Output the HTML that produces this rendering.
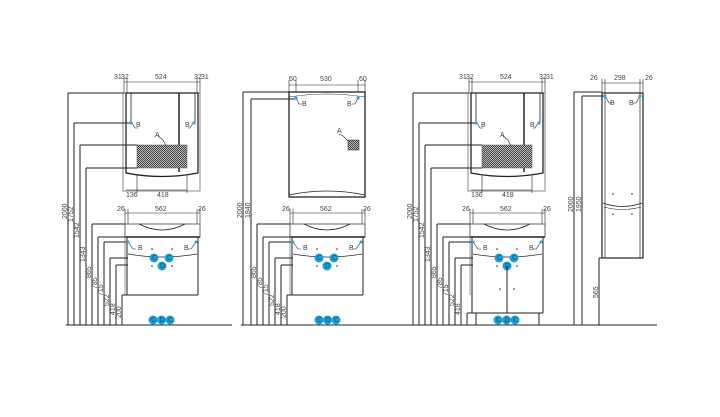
<!DOCTYPE html>
<html><head><meta charset="utf-8"><style>
html,body{margin:0;padding:0;background:#fff;width:720px;height:417px;overflow:hidden}
svg{display:block}
text{font-family:"Liberation Sans",sans-serif;font-size:7px;fill:#444}
</style></head><body>
<svg width="720" height="417" viewBox="0 0 720 417" xmlns="http://www.w3.org/2000/svg">
<defs>
<pattern id="h" width="2" height="2" patternUnits="userSpaceOnUse"><rect width="2" height="2" fill="#bbb"/><rect width="1" height="1" fill="#444"/><rect x="1" y="1" width="1" height="1" fill="#444"/></pattern>
<g id="upper" fill="none" stroke="#222" stroke-width="1">
<line x1="124" y1="82" x2="200" y2="82" stroke-width="0.6"/>
<line x1="124" y1="78" x2="124" y2="93" stroke-width="0.6"/><line x1="127" y1="78" x2="127" y2="93" stroke-width="0.6"/>
<line x1="197" y1="78" x2="197" y2="93" stroke-width="0.6"/><line x1="200" y1="78" x2="200" y2="93" stroke-width="0.6"/>
<rect x="123" y="93" width="77" height="98" stroke="#888"/>
<path d="M126 93 H198 V173 Q162 180 126 173 Z" stroke-width="1.3"/>
<line x1="179" y1="93" x2="179" y2="172" stroke-width="1.5"/>
<rect x="137" y="145" width="50" height="23" fill="url(#h)" stroke="#555" stroke-width="0.5"/>
<line x1="126" y1="190" x2="187" y2="190" stroke-width="0.6"/>
<line x1="137" y1="175" x2="137" y2="193" stroke-width="0.6"/><line x1="187" y1="175" x2="187" y2="193" stroke-width="0.6"/>
<line x1="131" y1="93" x2="131" y2="123" stroke-width="0.8"/><line x1="195" y1="93" x2="195" y2="123" stroke-width="0.8"/>
<polyline points="132,123 135,128 138,128" stroke-width="0.6"/><polyline points="193,123 190,128 188,128" stroke-width="0.6"/>
<polyline points="158,136 163,140 166,146" stroke-width="0.6"/>
<line x1="68" y1="93" x2="124" y2="93"/><line x1="74" y1="123" x2="131" y2="123"/>
<line x1="80" y1="145" x2="137" y2="145"/><line x1="86" y1="168" x2="137" y2="168"/>
<line x1="68" y1="93" x2="68" y2="325"/><line x1="74" y1="123" x2="74" y2="325"/>
<line x1="80" y1="145" x2="80" y2="325"/><line x1="86" y1="168" x2="86" y2="325"/>
<circle cx="131" cy="123" r="1.6" fill="#2aa7d8" stroke="none"/><circle cx="194" cy="123" r="1.6" fill="#2aa7d8" stroke="none"/>
</g>
<g id="upperT">
<text x="114" y="79">31</text><text x="121" y="79">32</text><text x="155" y="79">524</text><text x="194" y="79">32</text><text x="201" y="79">31</text>
<text x="136" y="127">B</text><text x="185" y="127">B</text><text x="155" y="137">A</text>
<text x="126" y="197" font-size="6">136</text><text x="157" y="197" font-size="6">418</text>
<text transform="translate(67,219) rotate(-90)" font-size="6">2000</text>
<text transform="translate(73,222) rotate(-90)" font-size="6">1752</text>
<text transform="translate(79,238) rotate(-90)" font-size="6">1542</text>
<text transform="translate(85,262) rotate(-90)" font-size="6">1343</text>
</g>
<g id="lower" fill="none" stroke="#222" stroke-width="1">
<line x1="125" y1="213" x2="200" y2="213" stroke-width="0.6"/>
<line x1="125" y1="209" x2="125" y2="224" stroke-width="0.6"/><line x1="128" y1="209" x2="128" y2="224" stroke-width="0.6"/>
<line x1="197" y1="209" x2="197" y2="224" stroke-width="0.6"/><line x1="200" y1="209" x2="200" y2="224" stroke-width="0.6"/>
<path d="M125 224 H200 V237 H125 Z" stroke="#666"/>
<path d="M139 224 Q162 236 185 224" stroke-width="0.8"/>
<line x1="125" y1="237" x2="200" y2="237" stroke-width="1.6"/>
<line x1="127" y1="237" x2="127" y2="295"/><line x1="198" y1="237" x2="198" y2="295"/>
<line x1="125" y1="237" x2="125" y2="295" stroke="#999"/>
<path d="M128 254 Q162 260 197 254" stroke-width="0.7"/>
<polyline points="128,242 133,249 136,249" stroke-width="0.6"/><polyline points="196,242 191,249 188,249" stroke-width="0.6"/>
<line x1="92" y1="224" x2="125" y2="224"/><line x1="98" y1="237" x2="125" y2="237"/>
<line x1="104" y1="242" x2="128" y2="242"/><line x1="110" y1="258" x2="128" y2="258"/>
<line x1="116" y1="265" x2="128" y2="265"/>
<line x1="92" y1="224" x2="92" y2="325"/><line x1="98" y1="237" x2="98" y2="325"/>
<line x1="104" y1="242" x2="104" y2="325"/><line x1="110" y1="258" x2="110" y2="325"/>
<line x1="116" y1="265" x2="116" y2="325"/>
<circle cx="128" cy="242" r="1.5" fill="#2aa7d8" stroke="none"/><circle cx="196" cy="242" r="1.5" fill="#2aa7d8" stroke="none"/>
<g fill="#222" stroke="none"><circle cx="152" cy="249" r="0.8"/><circle cx="172" cy="249" r="0.8"/><circle cx="152" cy="266" r="0.8"/><circle cx="172" cy="266" r="0.8"/></g>
<g fill="#1aa0d6" stroke="none"><circle cx="154" cy="258" r="4.5"/><circle cx="169" cy="258" r="4.5"/><circle cx="162" cy="266" r="4.5"/></g>
</g>
<g id="lowerT">
<text x="117" y="211">26</text><text x="155" y="211">562</text><text x="198" y="211">26</text>
<text x="138" y="250">B</text><text x="184" y="250">B</text>
<g font-size="6" fill="#fff"><text x="152" y="260">C</text><text x="167" y="260">C</text><text x="160" y="268">D</text></g>
<text transform="translate(91,278) rotate(-90)" font-size="6">865</text>
<text transform="translate(97,289) rotate(-90)" font-size="6">785</text>
<text transform="translate(103,296) rotate(-90)" font-size="6">715</text>
<text transform="translate(109,306) rotate(-90)" font-size="6">522</text>
<text transform="translate(115,315) rotate(-90)" font-size="6">418</text>
</g>
<g id="cdc"><g fill="#1aa0d6"><circle cx="0" cy="0" r="4.5"/><circle cx="8.5" cy="0" r="4.5"/><circle cx="17" cy="0" r="4.5"/></g>
<g font-size="6" fill="#fff"><text x="-2" y="2">C</text><text x="6.5" y="2">D</text><text x="15" y="2">C</text></g></g>
</defs>

<!-- Panel 1 -->
<use href="#upper"/><use href="#upperT"/><use href="#lower"/><use href="#lowerT"/>
<g fill="none" stroke="#222"><line x1="122" y1="295" x2="198" y2="295"/><line x1="122" y1="295" x2="122" y2="325"/>
<line x1="66" y1="325" x2="232" y2="325"/></g>
<text transform="translate(121,318) rotate(-90)" font-size="6">200</text>
<use href="#cdc" x="153" y="320"/>

<!-- Panel 2 -->
<g fill="none" stroke="#222">
<line x1="289" y1="85" x2="365" y2="85" stroke-width="0.6"/>
<line x1="289" y1="80" x2="289" y2="92" stroke-width="0.6"/><line x1="296" y1="80" x2="296" y2="92" stroke-width="0.6"/>
<line x1="358" y1="80" x2="358" y2="92" stroke-width="0.6"/><line x1="365" y1="80" x2="365" y2="92" stroke-width="0.6"/>
<rect x="289" y="92" width="76" height="105" stroke-width="1.3"/>
<path d="M289 97 Q327 91 365 97" stroke-width="0.6"/><path d="M289 195 Q327 187 365 195" stroke-width="0.8"/>
<rect x="348" y="140" width="11" height="10" fill="url(#h)" stroke-width="0.5"/>
<polyline points="339,134 343,136 348,141" stroke-width="0.6"/>
<polyline points="296,98 299,104 302,104" stroke-width="0.6"/><polyline points="358,98 355,104 352,104" stroke-width="0.6"/>
<line x1="243" y1="92" x2="289" y2="92"/><line x1="251" y1="99" x2="296" y2="99"/>
<line x1="243" y1="92" x2="243" y2="325"/><line x1="251" y1="99" x2="251" y2="325"/>
<line x1="241" y1="325" x2="410" y2="325"/>
</g>
<circle cx="296" cy="98" r="1.6" fill="#2aa7d8"/><circle cx="358" cy="98" r="1.6" fill="#2aa7d8"/>
<text x="289" y="81">60</text><text x="320" y="81">530</text><text x="359" y="81">60</text>
<text x="302" y="106">B</text><text x="347" y="106">B</text><text x="337" y="133">A</text>
<text transform="translate(242,218) rotate(-90)" font-size="6">2000</text>
<text transform="translate(250,218) rotate(-90)" font-size="6">1840</text>
<g transform="translate(165,0)"><use href="#lower"/><use href="#lowerT"/>
<g fill="none" stroke="#222"><line x1="122" y1="295" x2="198" y2="295"/><line x1="122" y1="295" x2="122" y2="325"/></g>
<text transform="translate(121,318) rotate(-90)" font-size="6">200</text></g>
<use href="#cdc" x="319" y="320"/>

<!-- Panel 3 -->
<g transform="translate(345,0)">
<use href="#upper"/><use href="#upperT"/><use href="#lower"/><use href="#lowerT"/>
<g fill="none" stroke="#222">
<line x1="127" y1="295" x2="127" y2="313"/><line x1="198" y1="295" x2="198" y2="313"/>
<line x1="162" y1="266" x2="162" y2="313"/><line x1="127" y1="313" x2="198" y2="313"/>
<line x1="122" y1="313" x2="122" y2="325"/><line x1="122" y1="313" x2="131" y2="313"/>
<line x1="131" y1="313" x2="131" y2="325"/><line x1="194" y1="313" x2="194" y2="325"/>
</g>
<g fill="#222"><circle cx="155" cy="289" r="0.8"/><circle cx="169" cy="289" r="0.8"/></g>
</g>
<g fill="none" stroke="#222"><line x1="410" y1="325" x2="657" y2="325"/></g>
<use href="#cdc" x="498" y="320"/>

<!-- Panel 4 -->
<g fill="none" stroke="#222">
<line x1="602" y1="83" x2="643" y2="83" stroke-width="0.6"/>
<line x1="602" y1="79" x2="602" y2="93" stroke-width="0.6"/><line x1="605" y1="79" x2="605" y2="93" stroke-width="0.6"/>
<line x1="640" y1="79" x2="640" y2="93" stroke-width="0.6"/><line x1="643" y1="79" x2="643" y2="93" stroke-width="0.6"/>
<rect x="602" y="93" width="41" height="165" stroke-width="1.2"/>
<line x1="605" y1="93" x2="605" y2="258" stroke-width="0.7"/><line x1="640" y1="93" x2="640" y2="258" stroke-width="0.7"/>
<path d="M603 203 Q622 210 642 203" stroke-width="0.8"/><path d="M604 207 Q622 212 641 207" stroke-width="0.6"/>
<polyline points="605,96 609,103 612,103" stroke-width="0.6"/><polyline points="640,96 636,103 633,103" stroke-width="0.6"/>
<line x1="574" y1="92" x2="602" y2="92"/><line x1="582" y1="96" x2="605" y2="96"/>
<line x1="574" y1="92" x2="574" y2="325"/><line x1="582" y1="96" x2="582" y2="325"/>
<line x1="599" y1="258" x2="602" y2="258"/><line x1="599" y1="258" x2="599" y2="325"/>
</g>
<circle cx="605" cy="96" r="1.6" fill="#2aa7d8"/><circle cx="640" cy="96" r="1.6" fill="#2aa7d8"/>
<g fill="#222"><circle cx="613" cy="194" r="0.8"/><circle cx="632" cy="194" r="0.8"/><circle cx="613" cy="214" r="0.8"/><circle cx="632" cy="214" r="0.8"/></g>
<text x="590" y="80">26</text><text x="614" y="80">298</text><text x="645" y="80">26</text>
<text x="610" y="105">B</text><text x="629" y="105">B</text>
<text transform="translate(573,212) rotate(-90)" font-size="6">2000</text>
<text transform="translate(581,212) rotate(-90)" font-size="6">1950</text>
<text transform="translate(598,298) rotate(-90)" font-size="6">565</text>
</svg>
</body></html>
